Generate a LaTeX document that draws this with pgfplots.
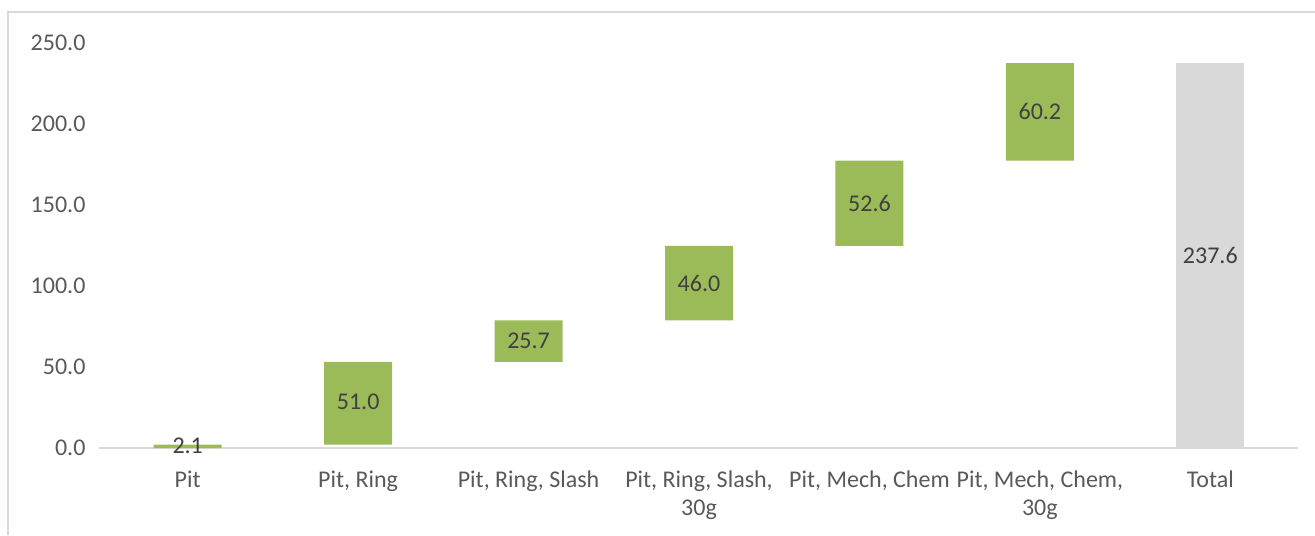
\documentclass[border=0pt]{standalone}
\usepackage{fontspec}
\setmainfont{Carlito}
\usepackage{pgfplots}
\pgfplotsset{compat=1.18}
\definecolor{barg}{HTML}{9BBB59}
\definecolor{bartot}{HTML}{D9D9D9}
\definecolor{txt}{HTML}{595959}
\definecolor{lbl}{HTML}{404040}
\begin{document}
\begin{tikzpicture}
\useasboundingbox (-51.25pt,-43.5pt) rectangle (606.25pt,224pt);
\draw[bartot, line width=1pt] (-47.25pt,-43.5pt) -- (-47.25pt,218pt) -- (606.25pt,218pt);
\pgfplotsset{common/.style={
  scale only axis, width=596.5pt, height=202.5pt,
  ymin=0, ymax=250, xmin=-0.5, xmax=6.5, clip=false}}
\begin{axis}[common,
  ybar stacked, bar width=34pt,
  axis x line*=bottom, axis y line*=left,
  y axis line style={draw=none},
  x axis line style={draw=bartot, line width=1pt, shorten <=-1.5pt, shorten >=-1pt},
  major tick length=0pt,
  xtick={0,1,2,3,4,5,6},
  xticklabels={Pit, {Pit, Ring}, {Pit, Ring, Slash}, {Pit, Ring, Slash,\\30g}, {Pit, Mech, Chem}, {Pit, Mech, Chem,\\30g}, Total},
  xticklabel style={align=center, text=txt, font=\fontsize{12}{14}\selectfont, yshift=-8pt},
  ytick={0,50,100,150,200,250},
  yticklabel style={text=txt, font=\fontsize{12}{14}\selectfont, xshift=-5pt,
    /pgf/number format/.cd, fixed, fixed zerofill, precision=1, assume math mode=true},
]
\addplot[draw=none, fill=none] coordinates {(0,0) (1,2.1) (2,53.1) (3,78.8) (4,124.8) (5,177.4) (6,0)};
\addplot[draw=none, fill=barg] coordinates {(0,2.1) (1,51.0) (2,25.7) (3,46.0) (4,52.6) (5,60.2) (6,0)};
\addplot[draw=none, fill=bartot] coordinates {(0,0) (1,0) (2,0) (3,0) (4,0) (5,0) (6,237.6)};
\end{axis}
\begin{axis}[common, hide axis]
\addplot[draw=none, mark=none, nodes near coords, point meta=explicit symbolic,
  every node near coord/.append style={anchor=center, text=lbl, font=\fontsize{12}{14}\selectfont}]
  table[meta=label] {
x y label
0 1.05 2.1
1 28.6 51.0
2 65.95 25.7
3 101.8 46.0
4 151.1 52.6
5 207.5 60.2
6 118.8 237.6
};
\end{axis}
\end{tikzpicture}
\end{document}
